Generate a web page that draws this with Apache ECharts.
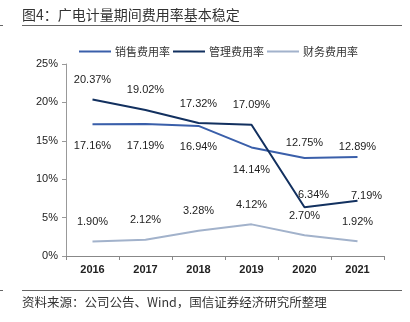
<!DOCTYPE html>
<html>
<head>
<meta charset="utf-8">
<script src="https://cdn.jsdelivr.net/npm/echarts@6/dist/echarts.min.js"></script>
<style>
  html, body { margin: 0; padding: 0; background: #fff; }
  #chart { width: 410px; height: 322px; }
</style>
</head>
<body>
<div id="chart"></div>
<script>
// Period expense ratios, 2016–2021 (%)
const years = ['2016', '2017', '2018', '2019', '2020', '2021'];
const salesRatio = [17.16, 17.19, 16.94, 14.14, 12.75, 12.89];
const adminRatio = [20.37, 19.02, 17.32, 17.09, 6.34, 7.19];
const financeRatio = [1.90, 2.12, 3.28, 4.12, 2.70, 1.92];
const yTicks = ['0%', '5%', '10%', '15%', '20%', '25%'];
const seriesNames = ['销售费用率', '管理费用率', '财务费用率'];

const FONT = '"Liberation Sans", Arial, "Noto Sans CJK SC", sans-serif';
const CJK = '"Noto Sans CJK SC", sans-serif';

// Attach a per-point label placement so the value tags don't collide
function labelled(values, placeFn) {
  return values.map((v, i) => {
    const p = placeFn(i);
    return {
      value: v,
      label: { show: true, position: p.pos, offset: p.off || [0, 0] }
    };
  });
}

const baseLabel = {
  show: true,
  fontFamily: FONT,
  fontSize: 11,
  color: '#222',
  distance: 14,
  formatter: p => p.value.toFixed(2) + '%'
};

function salesPlace(i) {
  if (i === 3) return { pos: 'bottom', off: [0, 3] };
  if (i === 4) return { pos: 'top', off: [0, 4] };
  if (i === 5) return { pos: 'top', off: [0, 9] };
  return { pos: 'bottom', off: [0, 2] };
}
function adminPlace(i) {
  if (i === 4) return { pos: 'top', off: [9, 7] };
  if (i === 5) return { pos: 'top', off: [9, 15] };
  return { pos: 'top' };
}

const chart = echarts.init(document.getElementById('chart'), null, { renderer: 'canvas' });
chart.setOption({
  animation: false,
  backgroundColor: '#fff',
  graphic: [
    { type: 'text', left: 22, top: 8, style: { text: '图4：广电计量期间费用率基本稳定', font: '14px ' + CJK, fill: '#333' } },
    { type: 'line', shape: { x1: 22, y1: 25.5, x2: 402, y2: 25.5 }, style: { stroke: '#666', lineWidth: 1 } },
    { type: 'line', shape: { x1: 0, y1: 25.5, x2: 3, y2: 25.5 }, style: { stroke: '#666', lineWidth: 1 } },
    { type: 'line', shape: { x1: 22, y1: 290.5, x2: 402, y2: 290.5 }, style: { stroke: '#666', lineWidth: 1 } },
    { type: 'line', shape: { x1: 0, y1: 290.5, x2: 3, y2: 290.5 }, style: { stroke: '#666', lineWidth: 1 } },
    { type: 'text', left: 22, top: 296, style: { text: '资料来源：公司公告、Wind，国信证券经济研究所整理', font: '12.5px ' + CJK, fill: '#333' } }
  ],
  legend: {
    top: 41,
    left: 74,
    itemWidth: 32,
    itemHeight: 2,
    itemGap: 3,
    icon: 'rect',
    textStyle: { fontFamily: CJK, fontSize: 11, color: '#333', padding: [0, 0, 0, -1] },
    data: seriesNames
  },
  grid: { left: 66, right: 26, top: 64, bottom: 66 },
  xAxis: {
    type: 'category',
    data: years,
    boundaryGap: true,
    axisLine: { lineStyle: { color: '#888', width: 1 } },
    axisTick: { show: true, length: 4, lineStyle: { color: '#888' } },
    axisLabel: { fontFamily: FONT, fontSize: 11, fontWeight: 'bold', color: '#222', margin: 8 }
  },
  yAxis: {
    type: 'value',
    min: 0,
    max: 25,
    interval: 5,
    splitLine: { show: false },
    axisLine: { show: true, lineStyle: { color: '#999', width: 1 } },
    axisTick: { show: true, length: 4, lineStyle: { color: '#999' } },
    axisLabel: {
      fontFamily: FONT, fontSize: 11, color: '#222', margin: 8,
      formatter: v => yTicks[Math.round(v / 5)]
    }
  },
  series: [
    {
      name: seriesNames[0],
      type: 'line',
      symbol: 'circle',
      symbolSize: 0.01,
      showSymbol: true,
      lineStyle: { color: '#3A5FAA', width: 2 },
      itemStyle: { color: '#3A5FAA' },
      label: baseLabel,
      data: labelled(salesRatio, salesPlace)
    },
    {
      name: seriesNames[1],
      type: 'line',
      symbol: 'circle',
      symbolSize: 0.01,
      showSymbol: true,
      lineStyle: { color: '#12305F', width: 2 },
      itemStyle: { color: '#12305F' },
      label: baseLabel,
      data: labelled(adminRatio, adminPlace)
    },
    {
      name: seriesNames[2],
      type: 'line',
      symbol: 'circle',
      symbolSize: 0.01,
      showSymbol: true,
      lineStyle: { color: '#A2B2CB', width: 2 },
      itemStyle: { color: '#A2B2CB' },
      label: baseLabel,
      data: labelled(financeRatio, () => ({ pos: 'top' }))
    }
  ]
});
</script>
</body>
</html>
